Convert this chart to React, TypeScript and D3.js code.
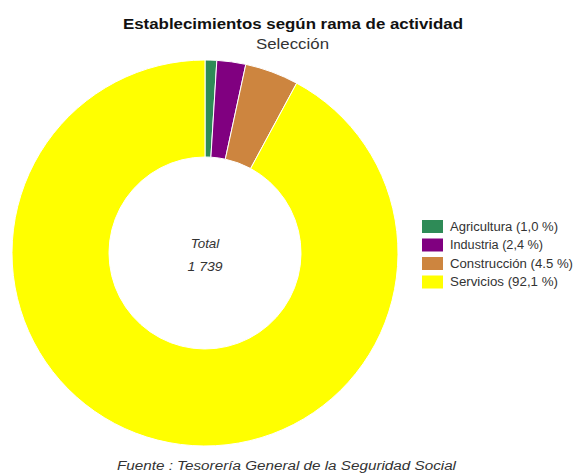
import React from "react";
import * as d3 from "d3";

const categories = ["Agricultura", "Industria", "Construcción", "Servicios"];
const counts = [17, 42, 78, 1602];
const percentLabels = ["1,0 %", "2,4 %", "4.5 %", "92,1 %"];
const colors = ["#2e8b57", "#800080", "#cd853f", "#ffff00"];
const title = "Establecimientos según rama de actividad";
const subtitle = "Selección";
const source = "Fuente : Tesorería General de la Seguridad Social";
const totalLabel = "Total";
const totalValue = "1 739";
const legendWidths = [108, 93, 123, 108];

export default function App() {
  const W = 574, H = 474;
  const cx = 205, cy = 253;
  const outerR = 193, innerR = 96;
  const pie = d3.pie<number>().sort(null).value((d) => d);
  const arcs = pie(counts);
  const arc = d3.arc<d3.PieArcDatum<number>>().innerRadius(innerR).outerRadius(outerR);
  const font = "Arial, 'Liberation Sans', sans-serif";
  const fit = "spacingAndGlyphs";
  return (
    <svg width={W} height={H} style={{ position: "absolute", left: 0, top: 0, background: "#fff" }} fontFamily={font}>
      <text x={123} y={29} fontWeight="bold" fontSize={14} fill="#111" textLength={340} lengthAdjust={fit}>{title}</text>
      <text x={256} y={49} fontSize={14} fill="#333" textLength={73} lengthAdjust={fit}>{subtitle}</text>
      <g transform={`translate(${cx},${cy})`}>
        {arcs.map((a, i) => (
          <path key={i} d={arc(a) || ""} fill={colors[i]} stroke="#fff" strokeWidth={1} />
        ))}
        <text x={-14.3} y={-5} fontStyle="italic" fontSize={13} fill="#333" textLength={28.6} lengthAdjust={fit}>{totalLabel}</text>
        <text x={-17.5} y={18} fontStyle="italic" fontSize={13} fill="#333" textLength={35} lengthAdjust={fit}>{totalValue}</text>
      </g>
      <g transform="translate(422,220)">
        {categories.map((c, i) => (
          <g key={c} transform={`translate(0,${i * 18.5})`}>
            <rect x={0} y={0} width={21} height={13} fill={colors[i]} />
            <text x={28} y={10.5} fontSize={12} fill="#333" textLength={legendWidths[i]} lengthAdjust={fit}>{`${c} (${percentLabels[i]})`}</text>
          </g>
        ))}
      </g>
      <text x={117} y={470} fontStyle="italic" fontSize={12} fill="#333" textLength={339} lengthAdjust={fit}>{source}</text>
    </svg>
  );
}
